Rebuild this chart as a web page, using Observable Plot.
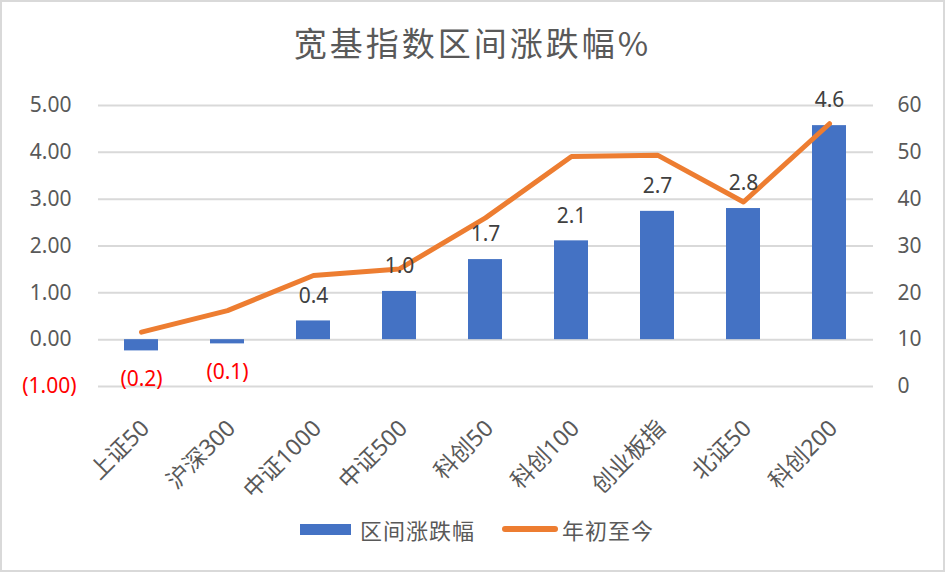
<!DOCTYPE html>
<html><head><meta charset="utf-8">
<script src="https://cdn.jsdelivr.net/npm/d3@7"></script>
<script src="https://cdn.jsdelivr.net/npm/@observablehq/plot@0.6"></script>
<style>
body{margin:0;background:#fff;}
#wrap{width:941px;height:568px;border:2px solid #d9d9d9;background:#fff;overflow:hidden;}
#title{height:76px;line-height:80px;text-align:center;font-size:33px;color:#595959;letter-spacing:3px;font-family:"Noto Sans CJK SC",sans-serif;}
#chart{height:410px;}
#chart svg{display:block;}
#legend{height:82px;display:flex;justify-content:center;align-items:center;font-family:"Noto Sans CJK SC",sans-serif;font-size:22px;color:#595959;letter-spacing:1px;padding-left:9px;box-sizing:border-box;}
.sw{display:inline-block;width:51px;height:11px;background:#4472C4;margin-right:9px;}
.ln{display:inline-block;width:56px;height:6px;border-radius:3px;background:#ED7D31;margin-left:27px;margin-right:4px;}
</style></head>
<body>
<div id="wrap">
  <div id="title">宽基指数区间涨跌幅%</div>
  <div id="chart"></div>
  <div id="legend"><span class="sw"></span><span>区间涨跌幅</span><span class="ln"></span><span>年初至今</span></div>
</div>
<script>
const categories = ["上证50","沪深300","中证1000","中证500","科创50","科创100","创业板指","北证50","科创200"];
const rangeChange = [-0.24,-0.09,0.40,1.03,1.71,2.11,2.74,2.80,4.57];
const ytdChange = [11.6,16.2,23.7,25.1,36.0,49.1,49.4,39.4,56.1];
const leftTicks = [-1,0,1,2,3,4,5];
const rightTicks = [0,10,20,30,40,50,60];

const data = categories.map((c,i)=>({cat:c, range:rangeChange[i], ytd:ytdChange[i]}));
const toLeft = v => v/10 - 1;

const chart = Plot.plot({
  width:941, height:410, marginLeft:96, marginRight:70, marginTop:27, marginBottom:102,
  style:{fontFamily:'"Noto Sans","Noto Sans CJK SC",sans-serif', fontSize:"21px", color:"#595959", background:"transparent", overflow:"visible"},
  x:{domain:categories, paddingInner:0.6, paddingOuter:0.3, axis:null},
  y:{domain:[-1,5], axis:null},
  marks:[
    Plot.gridY(leftTicks, {stroke:"#d9d9d9", strokeOpacity:1, strokeWidth:2}),
    Plot.barY(data,{x:"cat", y:"range", fill:"#4472C4"}),
    Plot.line(data,{x:"cat", y:d=>toLeft(d.ytd), stroke:"#ED7D31", strokeWidth:5, strokeLinecap:"round", strokeLinejoin:"round"}),
    Plot.text(data.filter(d=>d.range>=0), {x:"cat", y:"range", text:d=>d.range.toFixed(1), dy:-25, fill:"#404040", fontSize:21}),
    Plot.text(data.filter(d=>d.range<0), {x:"cat", y:"range", text:d=>`(${Math.abs(d.range).toFixed(1)})`, dy:28, fill:"#FF0000", fontSize:21}),
    Plot.axisY(leftTicks.filter(t=>t>=0), {anchor:"left", tickSize:0, tickPadding:27, tickFormat:d=>d.toFixed(2), fill:"#595959", fontSize:21, label:null}),
    Plot.axisY([-1], {anchor:"left", tickSize:0, tickPadding:22, tickFormat:()=>"(1.00)", fill:"#FF0000", fontSize:21, label:null}),
    Plot.axisY(rightTicks.map(toLeft), {anchor:"right", tickSize:0, tickPadding:24, tickFormat:d=>String(Math.round((d+1)*10)), fill:"#595959", fontSize:21, label:null}),
    Plot.axisX({tickSize:0, tickRotate:-45, tickPadding:26, dx:4, dy:12, fill:"#595959", fontSize:23, label:null})
  ]
});
document.getElementById("chart").appendChild(chart);
</script>
</body></html>
